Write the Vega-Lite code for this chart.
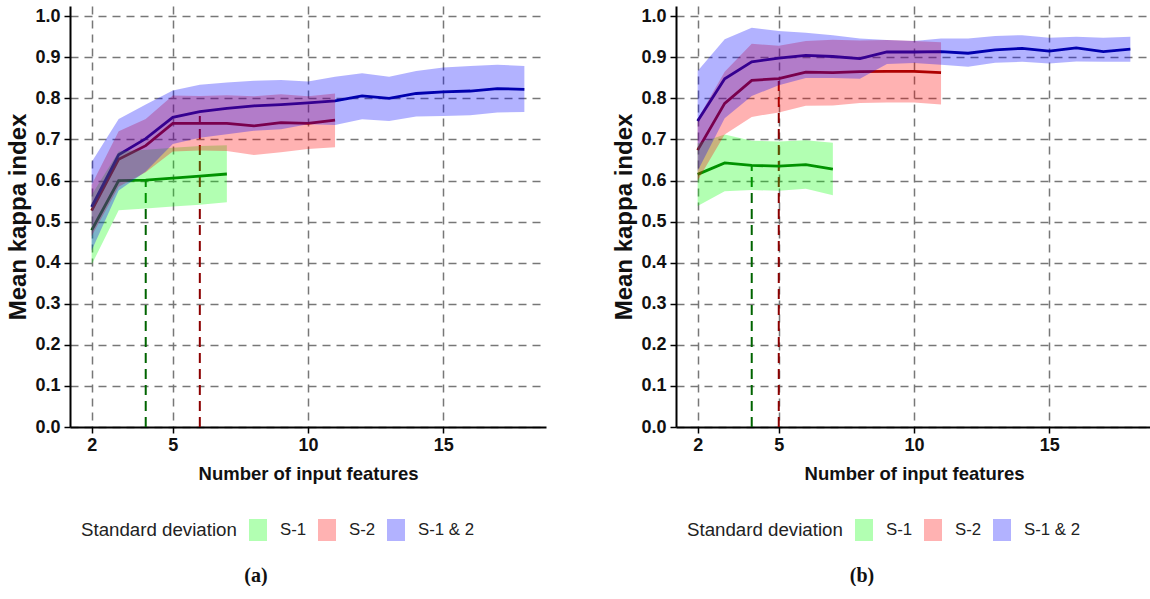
{
  "$schema": "https://vega.github.io/schema/vega-lite/v6.json",
  "background": "white",
  "padding": {"left": 6, "top": 6, "right": 0, "bottom": 0},
  "spacing": 66,
  "config": {
    "view": {"stroke": null},
    "font": "Liberation Sans",
    "axis": {
      "domainColor": "#000", "domainWidth": 2,
      "tickColor": "#000", "tickWidth": 1.5, "tickSize": 6,
      "labelFont": "Liberation Sans", "labelFontWeight": "bold", "labelFontSize": 18, "labelColor": "#111",
      "titleFont": "Liberation Sans", "titleFontWeight": "bold", "titleFontSize": 18.5, "titleColor": "#111",
      "grid": true, "gridColor": "#777", "gridDash": [8, 6], "gridWidth": 1.5, "gridOpacity": 1
    },
    "legend": {
      "titleFont": "Liberation Sans", "titleFontWeight": "normal", "titleFontSize": 18.7, "titleColor": "#222",
      "labelFont": "Liberation Sans", "labelFontSize": 16.8, "labelColor": "#222",
      "symbolType": "M-0.82,-1H0.82V1H-0.82Z", "symbolSize": 484, "symbolStrokeWidth": 0, "symbolOpacity": 0.3,
      "labelOffset": 11, "columnPadding": 9, "titlePadding": 10
    }
  },
  "datasets": {
    "a": [
      {"series": "S-1", "x": 2, "mean": 0.479, "lo": 0.395, "hi": 0.565},
      {"series": "S-1", "x": 3, "mean": 0.600, "lo": 0.528, "hi": 0.671},
      {"series": "S-1", "x": 4, "mean": 0.601, "lo": 0.532, "hi": 0.675},
      {"series": "S-1", "x": 5, "mean": 0.606, "lo": 0.537, "hi": 0.680},
      {"series": "S-1", "x": 6, "mean": 0.611, "lo": 0.541, "hi": 0.684},
      {"series": "S-1", "x": 7, "mean": 0.616, "lo": 0.547, "hi": 0.686},
      {"series": "S-2", "x": 2, "mean": 0.527, "lo": 0.465, "hi": 0.590},
      {"series": "S-2", "x": 3, "mean": 0.652, "lo": 0.585, "hi": 0.720},
      {"series": "S-2", "x": 4, "mean": 0.685, "lo": 0.620, "hi": 0.750},
      {"series": "S-2", "x": 5, "mean": 0.739, "lo": 0.671, "hi": 0.807},
      {"series": "S-2", "x": 6, "mean": 0.739, "lo": 0.673, "hi": 0.806},
      {"series": "S-2", "x": 7, "mean": 0.739, "lo": 0.672, "hi": 0.808},
      {"series": "S-2", "x": 8, "mean": 0.733, "lo": 0.662, "hi": 0.805},
      {"series": "S-2", "x": 9, "mean": 0.741, "lo": 0.669, "hi": 0.810},
      {"series": "S-2", "x": 10, "mean": 0.739, "lo": 0.677, "hi": 0.805},
      {"series": "S-2", "x": 11, "mean": 0.747, "lo": 0.681, "hi": 0.812},
      {"series": "S-1 & 2", "x": 2, "mean": 0.536, "lo": 0.430, "hi": 0.645},
      {"series": "S-1 & 2", "x": 3, "mean": 0.663, "lo": 0.576, "hi": 0.750},
      {"series": "S-1 & 2", "x": 4, "mean": 0.702, "lo": 0.622, "hi": 0.785},
      {"series": "S-1 & 2", "x": 5, "mean": 0.754, "lo": 0.689, "hi": 0.819},
      {"series": "S-1 & 2", "x": 6, "mean": 0.768, "lo": 0.704, "hi": 0.833},
      {"series": "S-1 & 2", "x": 7, "mean": 0.776, "lo": 0.713, "hi": 0.839},
      {"series": "S-1 & 2", "x": 8, "mean": 0.782, "lo": 0.721, "hi": 0.843},
      {"series": "S-1 & 2", "x": 9, "mean": 0.785, "lo": 0.725, "hi": 0.845},
      {"series": "S-1 & 2", "x": 10, "mean": 0.789, "lo": 0.737, "hi": 0.841},
      {"series": "S-1 & 2", "x": 11, "mean": 0.794, "lo": 0.735, "hi": 0.853},
      {"series": "S-1 & 2", "x": 12, "mean": 0.806, "lo": 0.749, "hi": 0.861},
      {"series": "S-1 & 2", "x": 13, "mean": 0.800, "lo": 0.745, "hi": 0.853},
      {"series": "S-1 & 2", "x": 14, "mean": 0.812, "lo": 0.756, "hi": 0.867},
      {"series": "S-1 & 2", "x": 15, "mean": 0.816, "lo": 0.757, "hi": 0.875},
      {"series": "S-1 & 2", "x": 16, "mean": 0.818, "lo": 0.759, "hi": 0.879},
      {"series": "S-1 & 2", "x": 17, "mean": 0.824, "lo": 0.766, "hi": 0.882},
      {"series": "S-1 & 2", "x": 18, "mean": 0.822, "lo": 0.767, "hi": 0.879}
    ],
    "b": [
      {"series": "S-1", "x": 2, "mean": 0.615, "lo": 0.538, "hi": 0.690},
      {"series": "S-1", "x": 3, "mean": 0.643, "lo": 0.574, "hi": 0.712},
      {"series": "S-1", "x": 4, "mean": 0.637, "lo": 0.577, "hi": 0.697},
      {"series": "S-1", "x": 5, "mean": 0.635, "lo": 0.575, "hi": 0.695},
      {"series": "S-1", "x": 6, "mean": 0.639, "lo": 0.580, "hi": 0.698},
      {"series": "S-1", "x": 7, "mean": 0.628, "lo": 0.564, "hi": 0.692},
      {"series": "S-2", "x": 2, "mean": 0.674, "lo": 0.600, "hi": 0.750},
      {"series": "S-2", "x": 3, "mean": 0.788, "lo": 0.712, "hi": 0.865},
      {"series": "S-2", "x": 4, "mean": 0.844, "lo": 0.755, "hi": 0.933},
      {"series": "S-2", "x": 5, "mean": 0.848, "lo": 0.766, "hi": 0.928},
      {"series": "S-2", "x": 6, "mean": 0.864, "lo": 0.782, "hi": 0.940},
      {"series": "S-2", "x": 7, "mean": 0.863, "lo": 0.783, "hi": 0.943},
      {"series": "S-2", "x": 8, "mean": 0.865, "lo": 0.789, "hi": 0.941},
      {"series": "S-2", "x": 9, "mean": 0.866, "lo": 0.790, "hi": 0.942},
      {"series": "S-2", "x": 10, "mean": 0.866, "lo": 0.790, "hi": 0.940},
      {"series": "S-2", "x": 11, "mean": 0.863, "lo": 0.785, "hi": 0.937},
      {"series": "S-1 & 2", "x": 2, "mean": 0.745, "lo": 0.623, "hi": 0.867},
      {"series": "S-1 & 2", "x": 3, "mean": 0.848, "lo": 0.752, "hi": 0.944},
      {"series": "S-1 & 2", "x": 4, "mean": 0.889, "lo": 0.806, "hi": 0.972},
      {"series": "S-1 & 2", "x": 5, "mean": 0.898, "lo": 0.832, "hi": 0.964},
      {"series": "S-1 & 2", "x": 6, "mean": 0.905, "lo": 0.850, "hi": 0.960},
      {"series": "S-1 & 2", "x": 7, "mean": 0.902, "lo": 0.850, "hi": 0.954},
      {"series": "S-1 & 2", "x": 8, "mean": 0.897, "lo": 0.848, "hi": 0.946},
      {"series": "S-1 & 2", "x": 9, "mean": 0.913, "lo": 0.884, "hi": 0.942},
      {"series": "S-1 & 2", "x": 10, "mean": 0.913, "lo": 0.886, "hi": 0.940},
      {"series": "S-1 & 2", "x": 11, "mean": 0.914, "lo": 0.882, "hi": 0.946},
      {"series": "S-1 & 2", "x": 12, "mean": 0.910, "lo": 0.877, "hi": 0.946},
      {"series": "S-1 & 2", "x": 13, "mean": 0.918, "lo": 0.887, "hi": 0.952},
      {"series": "S-1 & 2", "x": 14, "mean": 0.922, "lo": 0.889, "hi": 0.954},
      {"series": "S-1 & 2", "x": 15, "mean": 0.915, "lo": 0.885, "hi": 0.948},
      {"series": "S-1 & 2", "x": 16, "mean": 0.923, "lo": 0.890, "hi": 0.950},
      {"series": "S-1 & 2", "x": 17, "mean": 0.914, "lo": 0.889, "hi": 0.948},
      {"series": "S-1 & 2", "x": 18, "mean": 0.920, "lo": 0.889, "hi": 0.950}
    ],
    "ma": [
      {"series": "S-1", "x": 4, "bottom": 0, "top": 0.601},
      {"series": "S-2", "x": 6, "bottom": 0, "top": 0.757}
    ],
    "mb": [
      {"series": "S-1", "x": 4, "bottom": 0, "top": 0.637},
      {"series": "S-2", "x": 5, "bottom": 0, "top": 0.855}
    ]
  },
  "resolve": {
    "scale": {"x": "independent", "y": "independent", "fill": "independent", "stroke": "independent"},
    "legend": {"fill": "independent"}
  },
  "hconcat": [
    {
      "width": 476, "height": 421,
      "title": {"text": "(a)", "orient": "bottom", "font": "Liberation Serif", "fontSize": 20, "fontWeight": "bold", "color": "#111", "anchor": "middle", "frame": "group", "dx": -52, "offset": 25},
      "layer": [
        {
          "data": {"name": "ma"},
          "mark": {"type": "rule", "strokeDash": [10, 6], "strokeWidth": 2},
          "encoding": {
            "x": {"field": "x", "type": "quantitative", "scale": {"domain": [1.2, 18.8], "nice": false, "zero": false}, "axis": {"values": [2, 5, 10, 15], "title": "Number of input features", "labelPadding": 3, "titlePadding": 10}},
            "y": {"field": "bottom", "type": "quantitative", "scale": {"domain": [0, 1.025], "nice": false}, "axis": {"values": [0, 0.1, 0.2, 0.3, 0.4, 0.5, 0.6, 0.7, 0.8, 0.9, 1.0], "format": ".1f", "title": "Mean kappa index", "titleFontSize": 24, "labelPadding": 4, "titlePadding": 4}},
            "y2": {"field": "top"},
            "stroke": {"field": "series", "type": "nominal", "scale": {"domain": ["S-1 & 2", "S-2", "S-1"], "range": ["#00008b", "#8b0000", "#006400"]}, "legend": null}
          }
        },
        {
          "data": {"name": "a"},
          "mark": {"type": "line", "strokeWidth": 2.8},
          "encoding": {
            "x": {"field": "x", "type": "quantitative"},
            "y": {"field": "mean", "type": "quantitative"},
            "stroke": {"field": "series", "type": "nominal", "legend": null}
          }
        },
        {
          "data": {"name": "a"},
          "mark": {"type": "area", "opacity": 0.3},
          "encoding": {
            "x": {"field": "x", "type": "quantitative"},
            "y": {"field": "lo", "type": "quantitative"},
            "y2": {"field": "hi"},
            "fill": {"field": "series", "type": "nominal", "sort": null, "scale": {"domain": ["S-1", "S-2", "S-1 & 2"], "range": ["#00ff00", "#ff0000", "#0000ff"]}, "legend": {"title": "Standard deviation", "orient": "none", "direction": "horizontal", "titleOrient": "left", "legendX": 11, "legendY": 513}}
          }
        }
      ]
    },
    {
      "width": 476, "height": 421,
      "title": {"text": "(b)", "orient": "bottom", "font": "Liberation Serif", "fontSize": 20, "fontWeight": "bold", "color": "#111", "anchor": "middle", "frame": "group", "dx": -52, "offset": 25},
      "layer": [
        {
          "data": {"name": "mb"},
          "mark": {"type": "rule", "strokeDash": [10, 6], "strokeWidth": 2},
          "encoding": {
            "x": {"field": "x", "type": "quantitative", "scale": {"domain": [1.2, 18.8], "nice": false, "zero": false}, "axis": {"values": [2, 5, 10, 15], "title": "Number of input features", "labelPadding": 3, "titlePadding": 10}},
            "y": {"field": "bottom", "type": "quantitative", "scale": {"domain": [0, 1.025], "nice": false}, "axis": {"values": [0, 0.1, 0.2, 0.3, 0.4, 0.5, 0.6, 0.7, 0.8, 0.9, 1.0], "format": ".1f", "title": "Mean kappa index", "titleFontSize": 24, "labelPadding": 4, "titlePadding": 4}},
            "y2": {"field": "top"},
            "stroke": {"field": "series", "type": "nominal", "scale": {"domain": ["S-1 & 2", "S-2", "S-1"], "range": ["#00008b", "#8b0000", "#006400"]}, "legend": null}
          }
        },
        {
          "data": {"name": "b"},
          "mark": {"type": "line", "strokeWidth": 2.8},
          "encoding": {
            "x": {"field": "x", "type": "quantitative"},
            "y": {"field": "mean", "type": "quantitative"},
            "stroke": {"field": "series", "type": "nominal", "legend": null}
          }
        },
        {
          "data": {"name": "b"},
          "mark": {"type": "area", "opacity": 0.3},
          "encoding": {
            "x": {"field": "x", "type": "quantitative"},
            "y": {"field": "lo", "type": "quantitative"},
            "y2": {"field": "hi"},
            "fill": {"field": "series", "type": "nominal", "sort": null, "scale": {"domain": ["S-1", "S-2", "S-1 & 2"], "range": ["#00ff00", "#ff0000", "#0000ff"]}, "legend": {"title": "Standard deviation", "orient": "none", "direction": "horizontal", "titleOrient": "left", "legendX": 11, "legendY": 513}}
          }
        }
      ]
    }
  ]
}
